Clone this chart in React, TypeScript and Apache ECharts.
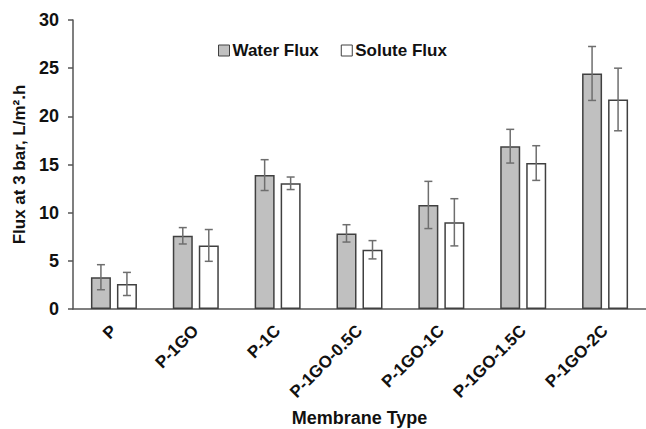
import React, { useEffect, useRef } from "react";
import * as echarts from "echarts";

const categories = ["P", "P-1GO", "P-1C", "P-1GO-0.5C", "P-1GO-1C", "P-1GO-1.5C", "P-1GO-2C"];
const waterFlux = [3.3, 7.6, 13.9, 7.85, 10.8, 16.9, 24.45];
const waterErr = [1.3, 0.85, 1.6, 0.9, 2.45, 1.75, 2.8];
const soluteFlux = [2.6, 6.6, 13.05, 6.15, 9.0, 15.15, 21.75];
const soluteErr = [1.2, 1.65, 0.65, 0.95, 2.45, 1.8, 3.25];
const yTicks = [0, 5, 10, 15, 20, 25, 30];

const FONT = "Arial, 'Liberation Sans', sans-serif";
const BAR_W = 20;
const BAR_GAP_PX = 6;

function errorSeries(name: string, vals: number[], errs: number[], offset: number) {
  return {
    type: "custom",
    name: name + " error",
    z: 10,
    silent: true,
    data: vals.map((v, i) => [i, v - errs[i], v + errs[i]]),
    renderItem: (params: any, api: any) => {
      const idx = api.value(0);
      const lo = api.coord([idx, api.value(1)]);
      const hi = api.coord([idx, api.value(2)]);
      const x = lo[0] + offset;
      const half = 4;
      const style = { stroke: "#6e6e6e", lineWidth: 1.5, fill: "none" };
      return {
        type: "group",
        children: [
          { type: "line", shape: { x1: x, y1: lo[1], x2: x, y2: hi[1] }, style },
          { type: "line", shape: { x1: x - half, y1: lo[1], x2: x + half, y2: lo[1] }, style },
          { type: "line", shape: { x1: x - half, y1: hi[1], x2: x + half, y2: hi[1] }, style },
        ],
      };
    },
  };
}

export default function App() {
  const ref = useRef<HTMLDivElement>(null);
  useEffect(() => {
    if (!ref.current) return;
    const chart = echarts.init(ref.current, null, { renderer: "svg" });
    const off = (BAR_W + BAR_GAP_PX) / 2;
    chart.setOption({
      animation: false,
      backgroundColor: "#ffffff",
      textStyle: { fontFamily: FONT },
      grid: { left: 73, right: 0, top: 20, bottom: 120, containLabel: false, outerBoundsMode: "none" },
      legend: {
        top: 37,
        left: 213,
        itemWidth: 11,
        itemHeight: 11,
        itemGap: 22,
        icon: "rect",
        textStyle: { fontFamily: FONT, fontWeight: "bold", fontSize: 17, color: "#111", padding: [0, 0, 0, -2] },
        data: [
          { name: "Water Flux", itemStyle: { color: "#c0c0c0", borderColor: "#404040", borderWidth: 1 } },
          { name: "Solute Flux", itemStyle: { color: "#ffffff", borderColor: "#404040", borderWidth: 1 } },
        ],
      },
      xAxis: {
        type: "category",
        data: categories,
        name: "Membrane Type",
        nameLocation: "middle",
        nameGap: 100,
        nameTextStyle: { fontFamily: FONT, fontWeight: "bold", fontSize: 18, color: "#111" },
        axisLine: { lineStyle: { color: "#555", width: 1.5 } },
        axisTick: { show: false },
        axisLabel: {
          rotate: 45,
          interval: 0,
          margin: 19,
          fontFamily: FONT,
          fontWeight: "bold",
          fontSize: 17,
          color: "#111",
        },
      },
      yAxis: {
        type: "value",
        min: 0,
        max: 30,
        interval: 5,
        name: "Flux at 3 bar, L/m².h",
        nameLocation: "middle",
        nameGap: 43,
        nameTextStyle: { fontFamily: FONT, fontWeight: "bold", fontSize: 17, color: "#111" },
        axisLine: { show: true, lineStyle: { color: "#555", width: 1.5 } },
        axisTick: { show: true, length: 5, lineStyle: { color: "#555", width: 1.5 } },
        splitLine: { show: false },
        axisLabel: {
          margin: 14,
          fontFamily: FONT,
          fontWeight: "bold",
          fontSize: 18,
          color: "#111",
          formatter: (v: number) => (yTicks.includes(v) ? String(v) : ""),
        },
      },
      series: [
        {
          name: "Water Flux",
          type: "bar",
          data: waterFlux,
          barWidth: BAR_W,
          barGap: (BAR_GAP_PX / BAR_W) * 100 + "%",
          itemStyle: { color: "#c0c0c0", borderColor: "#404040", borderWidth: 1.5 },
        },
        {
          name: "Solute Flux",
          type: "bar",
          data: soluteFlux,
          barWidth: BAR_W,
          itemStyle: { color: "#ffffff", borderColor: "#404040", borderWidth: 1.5 },
        },
        errorSeries("Water Flux", waterFlux, waterErr, -off),
        errorSeries("Solute Flux", soluteFlux, soluteErr, off),
      ],
    });
    return () => chart.dispose();
  }, []);
  return <div ref={ref} style={{ width: 646, height: 429, position: "absolute", left: 0, top: 0 }} />;
}
